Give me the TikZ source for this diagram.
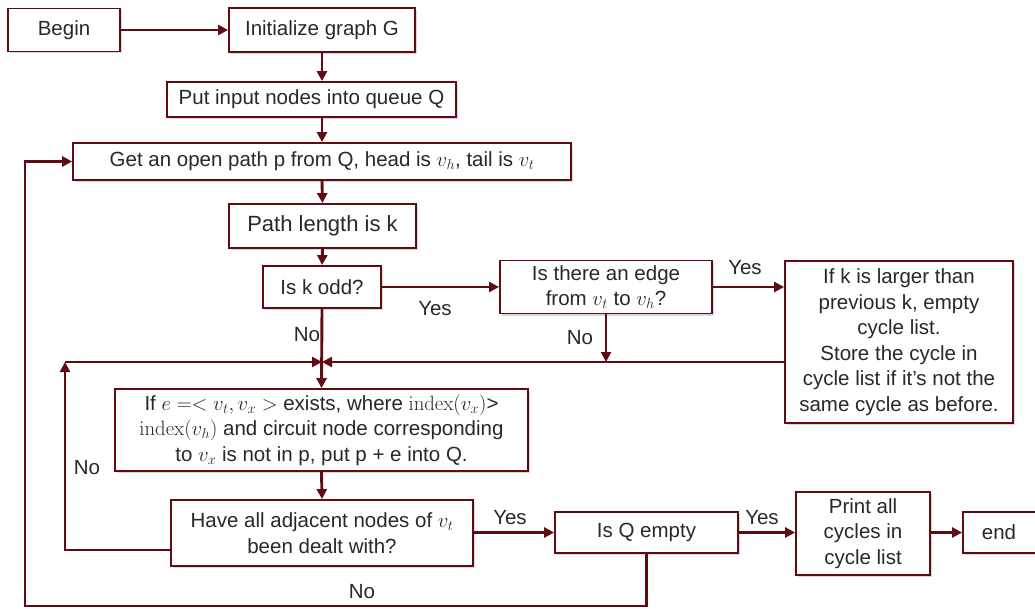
\documentclass[tikz,border=0pt]{standalone}
\usepackage[no-math]{fontspec}
\setmainfont{Liberation Sans}
\usetikzlibrary{arrows.meta,shadows}
\definecolor{maroon}{RGB}{96,12,18}
\definecolor{txt}{RGB}{40,40,40}
\begin{document}
\begin{tikzpicture}[x=1pt,y=-1pt,
  box/.style={draw=maroon,line width=1.8pt,fill=white,text=txt,inner sep=0pt,align=center,
    font=\fontsize{20.5}{25.5}\selectfont,
    drop shadow={opacity=0.3,shadow xshift=2pt,shadow yshift=-2pt}},
  arr/.style={draw=maroon,line width=2.9pt,-{Triangle[length=10pt,width=10pt]}},
  lbl/.style={text=txt,font=\fontsize{20.5}{24}\selectfont,inner sep=0pt}]
\useasboundingbox (0,0) rectangle (1035,609);
\node[box,minimum width=112pt,minimum height=43pt] (begin) at (64,30) {Begin};
\node[box,minimum width=186pt,minimum height=44pt] (init) at (322,30) {Initialize graph G};
\node[box,minimum width=289pt,minimum height=35pt] (put) at (311.5,99.5) {Put input nodes into queue Q};
\node[box,minimum width=498pt,minimum height=37pt] (get) at (322,161.5) {Get an open path p from Q, head is $v_h$, tail is $v_t$};
\node[box,minimum width=187pt,minimum height=44pt,font=\fontsize{22}{26}\selectfont] (path) at (322.5,226) {Path length is k};
\node[box,minimum width=118pt,minimum height=42pt] (isk) at (322,287) {Is k odd?};
\node[box,minimum width=212pt,minimum height=53pt] (edge) at (606,287) {Is there an edge\\from $v_t$ to $v_h$?};
\node[box,minimum width=228pt,minimum height=162pt] (cyc) at (899,342) {If k is larger than\\previous k, empty\\cycle list.\\Store the cycle in\\cycle list if it’s not the\\same cycle as before.};
\node[box,minimum width=413pt,minimum height=82pt] (ife) at (321.5,430) {If $e =< v_t, v_x >$ exists, where $\mathrm{index}(v_x)$>\\$\mathrm{index}(v_h)$ and circuit node corresponding\\to $v_x$ is not in p, put p + e into Q.};
\node[box,minimum width=302pt,minimum height=66pt] (adj) at (322,533) {Have all adjacent nodes of $v_t$\\been dealt with?};
\node[box,minimum width=183pt,minimum height=41pt] (isq) at (646.5,532.5) {Is Q empty};
\node[box,minimum width=134pt,minimum height=83pt] (print) at (863,533.5) {Print all\\cycles in\\cycle list};
\node[box,minimum width=80pt,minimum height=41pt] (end) at (1003,532.5) {\hspace*{-8pt}end};
\coordinate (merge) at (322,362);
\coordinate (lp) at (65,362);
\coordinate (lbot) at (65,550);
\coordinate (obot) at (25,606);
\draw[arr] (begin.east) -- (init.west);
\draw[arr] (init.south) -- (init.south |- put.north);
\draw[arr] (init.south |- put.south) -- (get.north);
\draw[arr] (get.south) -- (path.north);
\draw[arr] (path.south) -- (isk.north);
\draw[arr] (isk.south) -- (ife.north);
\draw[arr] (isk.east) -- (isk.east -| edge.west);
\draw[arr] (edge.east |- isk.east) -- (edge.east |- isk.east -| cyc.west);
\draw[arr] (edge.south) -- (edge.south |- merge);
\draw[arr] (cyc.west |- merge) -- (merge);
\draw[arr] (adj.west |- lbot) -- (lbot) -- (lp);
\draw[arr] (lp) -- (merge);
\draw[arr] (ife.south) -- (adj.north);
\draw[arr] (adj.east |- isq.west) -- (isq.west);
\draw[arr] (isq.east) -- (isq.east -| print.west);
\draw[arr] (print.east |- end.west) -- (end.west);
\draw[arr] (isq.south) -- (isq.south |- obot) -- (obot) -- (obot |- get.west) -- (get.west);
\node[lbl] (l1) at (435,309) {Yes};
\node[lbl] (l2) at (745,268) {Yes};
\node[lbl] (l3) at (307,335) {No};
\node[lbl] (l4) at (580,338) {No};
\node[lbl] (l5) at (87,468) {No};
\node[lbl] (l6) at (510,518) {Yes};
\node[lbl] (l7) at (762,518) {Yes};
\node[lbl] (l8) at (362,592) {No};
\end{tikzpicture}
\end{document}
